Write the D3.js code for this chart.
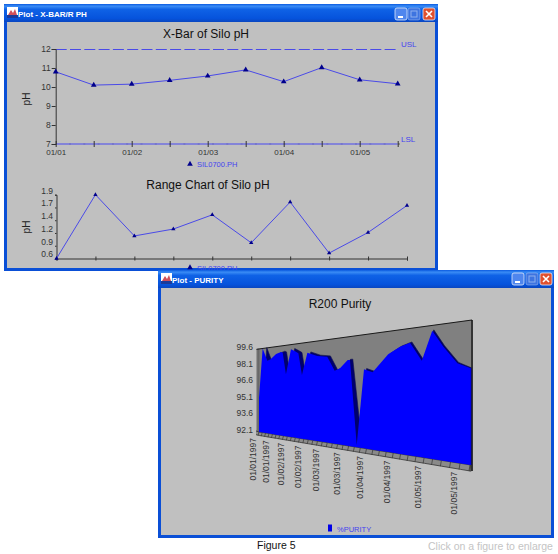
<!DOCTYPE html>
<html>
<head>
<meta charset="utf-8">
<script src="https://cdn.jsdelivr.net/npm/d3@7"></script>
<style>
html,body{margin:0;padding:0;background:#fff;overflow:hidden}
svg{display:block}
text{font-family:"Liberation Sans",Arial,sans-serif}
</style>
</head>
<body>
<svg id="c" width="558" height="554"></svg>
<script>
// X-bar chart
const xbarLabels = ["01/01","","01/02","","01/03","","01/04","","01/05",""];
const xbarValues = [10.8,10.1,10.15,10.35,10.58,10.9,10.28,11.02,10.38,10.17];
const xbarTicks = [7,8,9,10,11,12];
const usl = 12, lsl = 7;
// Range chart
const rangeValues = [0.6,1.9,1.06,1.2,1.49,0.92,1.75,0.71,1.13,1.68];
const rangeTicks = [0.6,0.86,1.12,1.38,1.64,1.9];
const rangeTickLabels = ["0.6","0.9","1.2","1.4","1.7","1.9"];
// Purity trend: position along the date axis (one unit per date label) and %PURITY
const purityPos = [0,0.28,0.63,0.87,1.25,1.59,1.7,1.91,2.23,2.48,2.68,2.89,3.2,3.74,4.25,4.61,4.86,5.21,5.31,5.6,5.9,6.24,6.82,7.23,7.56,7.93,8.24,8.55,8.93,9.27];
const purityValues = [95.2,99.6,98.47,98.57,98.98,99.1,99.02,97.21,99.22,99.02,98.83,97.1,98.8,98.48,98.36,97.31,97.46,98.0,98.0,92.25,97.31,97.09,98.17,98.57,98.75,97.65,99.3,98.35,97.4,97.1];
const purityTicks = [92.1,93.6,95.1,96.6,98.1,99.6];
const purityDates = ["01/01/1997","01/01/1997","01/02/1997","01/02/1997","01/03/1997","01/03/1997","01/04/1997","01/04/1997","01/05/1997","01/05/1997"];

const svg = d3.select("#c");
const blueText = "#4444ee", lineBlue = "#4a4ae8", markerBlue = "#00008c", panel = "#c0c0c0", tickInk = "#333";

const defs = svg.append("defs");
const grad = defs.append("linearGradient").attr("id","bar").attr("x1",0).attr("y1",0).attr("x2",0).attr("y2",1);
[[0,"#0a5ae0"],[0.12,"#3a8cf5"],[0.3,"#0f62e6"],[0.8,"#0653dc"],[1,"#0a46c0"]]
  .forEach(s => grad.append("stop").attr("offset",s[0]).attr("stop-color",s[1]));

// Desktop-style window frame with caption and buttons
function frame(x0,y0,x1,y1,title,btnY,btnX){
  const g = svg.append("g");
  g.append("rect").attr("x",x0).attr("y",y0).attr("width",x1-x0).attr("height",y1-y0).attr("fill","#0a4fd6");
  g.append("rect").attr("x",x0).attr("y",y0).attr("width",x1-x0).attr("height",18).attr("fill","url(#bar)");
  g.append("rect").attr("x",x0+3).attr("y",y0+18).attr("width",x1-x0-6).attr("height",y1-y0-21).attr("fill",panel);
  const ic = g.append("g").attr("transform",`translate(${x0+3},${y0+3})`);
  ic.append("rect").attr("width",11).attr("height",11).attr("fill","#fff");
  ic.append("path").attr("d","M1 8L4 3L6 6L8 2L10 8Z").attr("fill","#d0505a");
  ic.append("rect").attr("y",8).attr("width",11).attr("height",3).attr("fill","#1a3a9a");
  g.append("text").attr("x",x0+14).attr("y",y0+12.5).attr("font-size",8).attr("font-weight","bold").attr("fill","#fff").text(title);
  btnX.forEach((bx,i)=>{
    g.append("rect").attr("x",bx).attr("y",btnY).attr("width",12).attr("height",12).attr("rx",2)
      .attr("fill",i===2?"#e0512f":(i===1?"#3d74e0":"#4f86ee")).attr("stroke","#dfe8fa").attr("stroke-width",0.8)
      .attr("stroke-opacity",i===1?0.45:1);
  });
  g.append("rect").attr("x",btnX[0]+3).attr("y",btnY+8).attr("width",5).attr("height",2).attr("fill","#fff");
  g.append("rect").attr("x",btnX[1]+3).attr("y",btnY+3).attr("width",6).attr("height",6).attr("fill","none").attr("stroke","#8fb0ee");
  g.append("path").attr("d",`M${btnX[2]+3} ${btnY+3}l6 6m0 -6l-6 6`).attr("stroke","#fff").attr("stroke-width",1.6);
}

function title(x,y,t){
  svg.append("text").attr("x",x).attr("y",y).attr("text-anchor","middle").attr("font-size",12).attr("fill","#111").text(t);
}
function yTitle(x,y,t){
  svg.append("text").attr("transform",`translate(${x},${y}) rotate(-90)`).attr("text-anchor","middle").attr("font-size",10).attr("fill","#222").text(t);
}
function styleAxis(g,size){
  g.selectAll("path.domain").attr("stroke",tickInk);
  g.selectAll("line").attr("stroke",tickInk);
  g.selectAll("text").attr("font-size",size).attr("fill","#333").attr("font-family",'"Liberation Sans",Arial,sans-serif');
}
function legend(x,y,t){
  svg.append("path").attr("d",d3.symbol(d3.symbolTriangle,14)()).attr("transform",`translate(${x},${y})`).attr("fill",markerBlue);
  svg.append("text").attr("x",x+7).attr("y",y+3).attr("font-size",7.5).attr("fill",blueText).text(t);
}

// ---- first window ----
frame(4,4,438,271,"Plot - X-BAR/R PH",8,[395,408,423]);
title(206,38,"X-Bar of Silo pH");
yTitle(30,99,"pH");

const x1 = d3.scalePoint().domain(d3.range(xbarValues.length)).range([55.7,397.7]);
const y1 = d3.scaleLinear().domain([lsl,usl]).range([144,49]);

// faint minor marks along the lower limit
svg.append("g").selectAll("rect").data(d3.range(0,24)).join("rect")
  .attr("x",d=>x1(0)+(d+1)*14.3-1).attr("y",143).attr("width",2).attr("height",2).attr("fill","#8a8a8a");

svg.append("line").attr("x1",x1(0)).attr("x2",x1(9)).attr("y1",y1(lsl)).attr("y2",y1(lsl))
  .attr("stroke","#7070e0").attr("stroke-width",1.6);
svg.append("line").attr("x1",x1(0)).attr("x2",x1(9)).attr("y1",y1(usl)+0.5).attr("y2",y1(usl)+0.5)
  .attr("stroke",lineBlue).attr("stroke-dasharray","11 3.3");

const ax1 = svg.append("g").attr("transform",`translate(${x1(0)},0)`)
  .call(d3.axisLeft(y1).tickValues(xbarTicks).tickFormat(d3.format("d")).tickSize(4).tickPadding(1));
styleAxis(ax1,8.5);
const bx1 = svg.append("g").attr("transform",`translate(0,${y1(lsl)})`)
  .call(d3.axisBottom(x1).tickFormat(i=>xbarLabels[i]).tickSize(3).tickPadding(2.4));
bx1.select("path.domain").remove();
bx1.selectAll("line").attr("y1",-3);
styleAxis(bx1,8);

svg.append("text").attr("x",401).attr("y",47).attr("font-size",8).attr("fill",blueText).text("USL");
svg.append("text").attr("x",401).attr("y",142).attr("font-size",8).attr("fill",blueText).text("LSL");

const l1 = d3.line().x((d,i)=>x1(i)).y(d=>y1(d));
svg.append("path").attr("d",l1(xbarValues)).attr("fill","none").attr("stroke",lineBlue);
svg.append("g").selectAll("path").data(xbarValues).join("path")
  .attr("d",d3.symbol(d3.symbolTriangle,14)()).attr("transform",(d,i)=>`translate(${x1(i)},${y1(d)})`).attr("fill",markerBlue);
legend(190,164,"SIL0700.PH");

title(208,189,"Range Chart of Silo pH");
yTitle(30,227,"pH");

const x2 = d3.scalePoint().domain(d3.range(rangeValues.length)).range([56.5,407]);
const y2 = d3.scaleLinear().domain([0.6,1.9]).range([258.5,194.7]);
const ax2 = svg.append("g").attr("transform",`translate(${x2(0)},0)`)
  .call(d3.axisLeft(y2).tickValues(rangeTicks).tickFormat((d,i)=>rangeTickLabels[i]).tickSize(1.5).tickPadding(2));
styleAxis(ax2,8.5);
ax2.selectAll("text").attr("dy","-0.2em");
const bx2 = svg.append("g").attr("transform",`translate(0,${y2(0.6)})`)
  .call(d3.axisBottom(x2).tickFormat("").tickSize(2));
bx2.selectAll("line").attr("y1",-2);
styleAxis(bx2,8);

const l2 = d3.line().x((d,i)=>x2(i)).y(d=>y2(d));
svg.append("path").attr("d",l2(rangeValues)).attr("fill","none").attr("stroke",lineBlue);
svg.append("g").selectAll("path").data(rangeValues).join("path")
  .attr("d",d3.symbol(d3.symbolTriangle,8)()).attr("transform",(d,i)=>`translate(${x2(i)},${y2(d)})`).attr("fill",markerBlue);
legend(190,267.5,"SIL0700.PH");

// ---- second window ----
frame(158,270,554,538,"Plot - PURITY",273,[512,526,540]);
title(340,308,"R200 Purity");

// Foreshortened plot plane: the date axis compresses on the left, and the
// vertical extent of the plane grows towards the right
const xLeft = 259, xRight = 471;
const px = u => xLeft + 12.83*u/(1-0.0473*u);
const floorY = d3.scaleLinear().domain([xLeft,xRight]).range([432,465]);
const ceilY = d3.scaleLinear().domain([xLeft,xRight]).range([349,320]);
const frac = d3.scaleLinear().domain([92.1,99.6]).range([0,1]);
const py = (u,v) => { const x = px(u); return d3.interpolateNumber(floorY(x),ceilY(x))(frac(v)); };

// back wall and narrow left wall
svg.append("path").attr("d",d3.line()([[xLeft,349],[xRight,320],[xRight,465],[xLeft,432]])).attr("fill","#808080");
svg.append("path").attr("d",d3.line()([[256.5,349.5],[xLeft,349],[xLeft,432],[256.5,431]])).attr("fill","#6f6f6f").attr("stroke","#555").attr("stroke-width",0.5);
svg.append("line").attr("x1",256.5).attr("y1",349.3).attr("x2",xRight+1).attr("y2",320).attr("stroke","#1a1a1a").attr("stroke-width",1);
svg.append("line").attr("x1",xRight+1).attr("y1",320).attr("x2",xRight+1).attr("y2",471).attr("stroke","#111").attr("stroke-width",1.6);

// rear face of the ribbon, pushed back from the front profile; the offset narrows
// towards the right and deep dips recede furthest
const rearShift = d3.scaleLinear().domain([xLeft,xRight]).range([4.2,1]);
const recede = d3.scalePow().exponent(5).domain([0,1]).range([0.8,26]);
const rear = purityPos.map((u,i)=>[px(u)+rearShift(px(u)),py(u,purityValues[i])-recede(1-frac(purityValues[i]))]);
const rearPoly = [[xLeft+2.8,floorY(xLeft)]].concat(rear.slice(0,-1)).concat([[xRight+0.5,py(purityPos[purityPos.length-1],purityValues[purityValues.length-1])-0.5],[xRight+0.5,floorY(xRight)]]);
svg.append("path").attr("d",d3.line()(rearPoly)).attr("fill","#00006e").attr("stroke","#10104a").attr("stroke-width",0.6);

// floor strip below the plane
const stripU = d3.range(0,9.27,0.25).concat([9.27]);
const stripH = x => 3.5 + (x-xLeft)/(xRight-xLeft)*2.7;
const stripTop = stripU.map(u=>[px(u),floorY(px(u))]);
const stripPoly = [[256,431]].concat(stripTop).concat(stripU.slice().reverse().map(u=>[px(u)+0.3,floorY(px(u))+stripH(px(u))])).concat([[256,434.7]]);
svg.append("path").attr("d",d3.line()(stripPoly)).attr("fill","#8a8a8a").attr("stroke","#222").attr("stroke-width",0.7);
svg.append("g").selectAll("line").data(stripU).join("line")
  .attr("x1",u=>px(u)).attr("y1",u=>floorY(px(u)))
  .attr("x2",u=>px(u)-1).attr("y2",u=>floorY(px(u))+stripH(px(u)))
  .attr("stroke","#333").attr("stroke-width",0.7);

// front face of the area
const front = d3.area().x(d=>px(d[0])).y1(d=>py(d[0],d[1])).y0(d=>floorY(px(d[0])));
svg.append("path").attr("d",front(purityPos.map((u,i)=>[u,purityValues[i]]))).attr("fill","#0000ff");

// value labels sit along the left wall
const yLeft = d3.scaleLinear().domain([92.1,99.6]).range([429.5,347]);
const ax3 = svg.append("g").attr("transform","translate(255,0)")
  .call(d3.axisLeft(yLeft).tickValues(purityTicks).tickFormat(d3.format(".1f")).tickSize(0).tickPadding(2));
ax3.select("path.domain").remove();
styleAxis(ax3,8.5);

// rotated date labels under the strip
svg.append("g").selectAll("text").data(purityDates).join("text")
  .attr("transform",(d,i)=>{const x=px(i);return `translate(${x-3},${floorY(x)+stripH(x)+2.5}) rotate(-90)`;})
  .attr("text-anchor","end").attr("font-size",8.5).attr("fill","#333").text(d=>d);

svg.append("rect").attr("x",328).attr("y",524.5).attr("width",4).attr("height",7).attr("fill","#0000e8");
svg.append("text").attr("x",337).attr("y",531.5).attr("font-size",7.5).attr("fill",blueText).text("%PURITY");

svg.append("text").attr("x",257).attr("y",549).attr("font-size",10.5).attr("fill","#111").text("Figure 5");
svg.append("text").attr("x",428).attr("y",550).attr("font-size",10.5).attr("fill","#c4c4c4").text("Click on a figure to enlarge");
</script>
</body>
</html>
